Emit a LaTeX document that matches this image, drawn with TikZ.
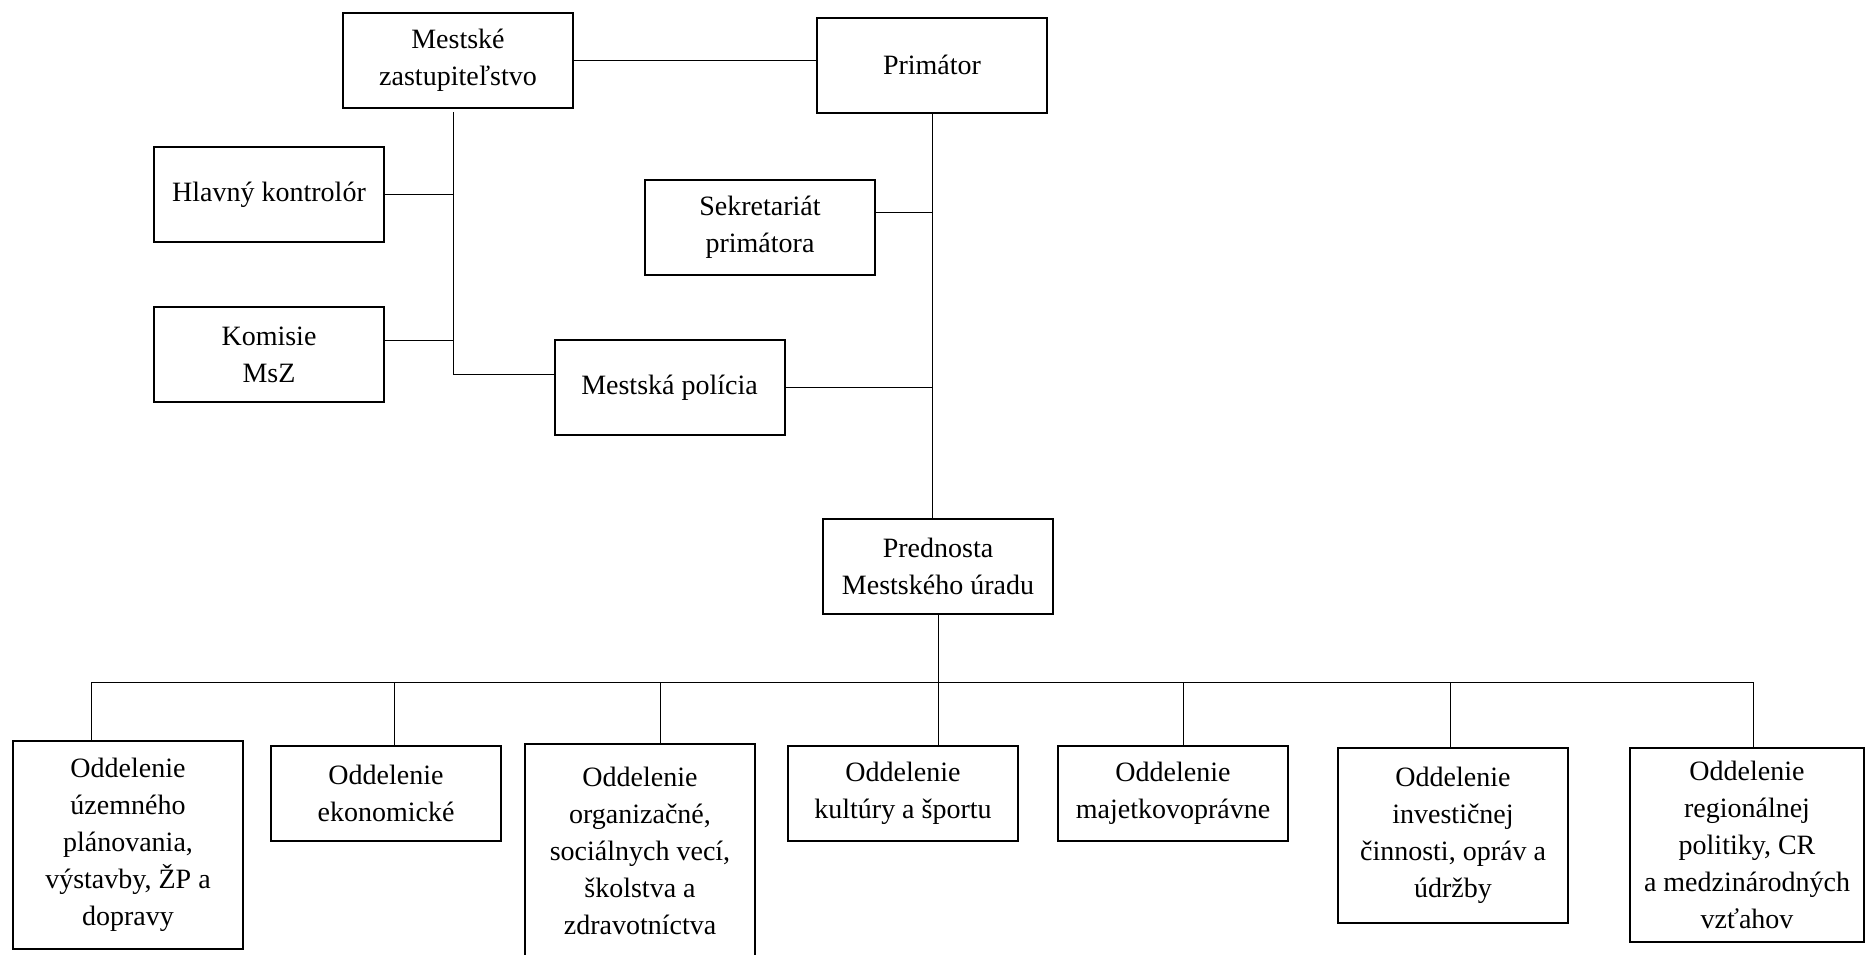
\documentclass[tikz,border=0pt]{standalone}
\usepackage{fontspec}
\setmainfont{Liberation Serif}
\tikzset{
  unit/.style={draw, line width=1pt, minimum width=115pt, minimum height=47.5pt,
    align=center, inner sep=0pt, font=\fontsize{14}{18.5}\selectfont},
  link/.style={line width=0.5pt}
}
\begin{document}
\begin{tikzpicture}[x=0.5pt,y=-0.5pt]
\useasboundingbox (0,0) rectangle (1866,954);
% vedenie
\node[unit] (msz) at (458,60) {Mestské\\zastupiteľstvo};
\node[unit] (prim) at (932,65) {Primátor};
\node[unit] (hk) at (269,194.5) {Hlavný kontrolór};
\node[unit] (sek) at (760,227.5) {Sekretariát\\primátora};
\node[unit] (kom) at (269,354.5) {Komisie\\MsZ};
\node[unit] (pol) at (669.5,387.5) {Mestská polícia};
\node[unit] (pred) at (938,566.5) {Prednosta\\Mestského úradu};
% oddelenia
\node[unit, minimum height=104pt] (o1) at (128,845) {Oddelenie\\územného\\plánovania,\\výstavby, ŽP a\\dopravy};
\node[unit] (o2) at (386,793.5) {Oddelenie\\ekonomické};
\node[unit, minimum height=106.5pt] (o3) at (640,850.5) {Oddelenie\\organizačné,\\sociálnych vecí,\\školstva a\\zdravotníctva};
\node[unit] (o4) at (903,793.5) {Oddelenie\\kultúry a športu};
\node[unit] (o5) at (1173,793.5) {Oddelenie\\majetkovoprávne};
\node[unit, minimum height=87.5pt] (o6) at (1453,835.5) {Oddelenie\\investičnej\\činnosti, opráv a\\údržby};
\node[unit, minimum width=117pt, minimum height=97pt] (o7) at (1747,845) {Oddelenie\\regionálnej\\politiky, CR\\a medzinárodných\\vzťahov};
% spojnice hore
\coordinate (zt) at (453,112);
\coordinate (zb) at (453,374);
\draw[link] (msz.east) -- (msz.east -| prim.west);
\draw[link] (zt) -- (zb) -- (zb -| pol.west);
\draw[link] (hk.east) -- (hk.east -| zt);
\draw[link] ([yshift=7pt]kom.east) -- ([yshift=7pt]kom.east -| zt);
\draw[link] (prim.south) -- (prim.south |- pred.north);
\draw[link] ([yshift=7.5pt]sek.east) -- ([yshift=7.5pt]sek.east -| prim.south);
\draw[link] (pol.east) -- (pol.east -| prim.south);
% spojnice dole
\coordinate (b1) at (91,682);
\coordinate (b7) at (1753,682);
\draw[link] (b1) -- (b7);
\draw[link] (pred.south) -- (pred.south |- o4.north);
\foreach \i/\x in {1/91,2/394,3/660,5/1183,6/1450,7/1753}{
  \coordinate (d\i) at (\x,682);
  \draw[link] (d\i) -- (d\i |- o\i.north);
}
\end{tikzpicture}
\end{document}
